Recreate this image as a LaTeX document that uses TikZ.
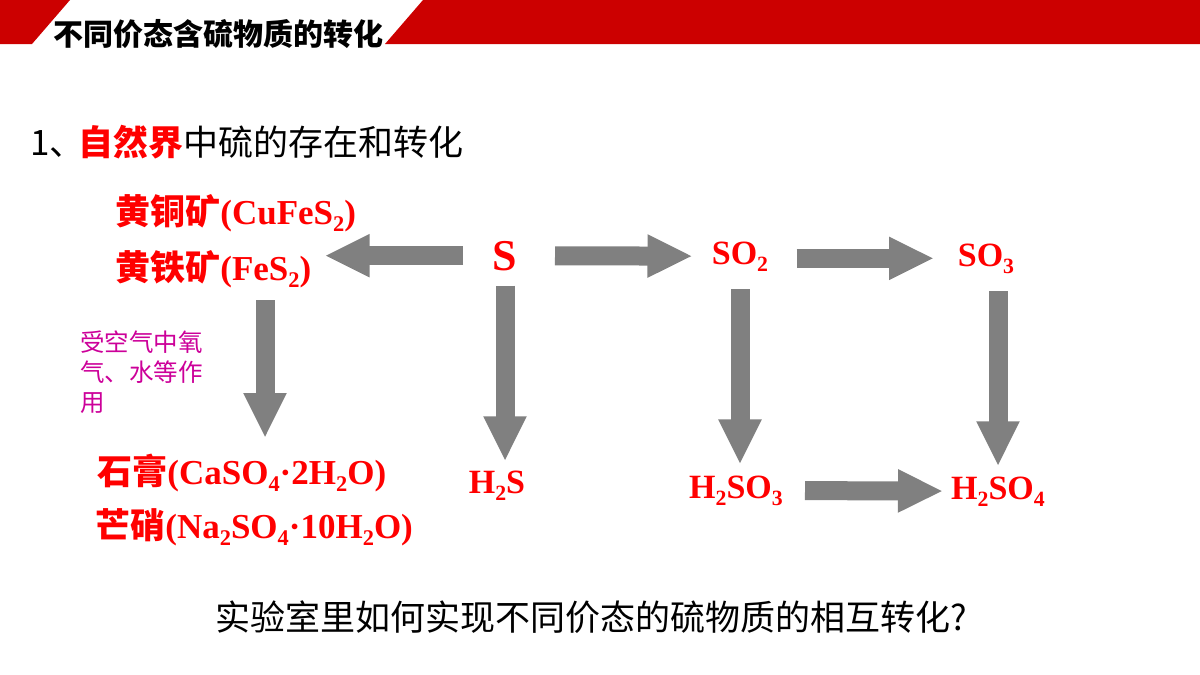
\documentclass[tikz,border=0pt]{standalone}
\usepackage{fontspec}
\setmainfont{Liberation Serif}
\newfontfamily\cjk{Noto Sans CJK SC}
\usetikzlibrary{arrows.meta}
\definecolor{bandred}{RGB}{204,0,0}
\definecolor{arrowgray}{RGB}{128,128,128}
\definecolor{notepurple}{RGB}{204,0,153}
\makeatletter
\newcommand{\chemsub}[1]{\raisebox{-0.45ex}{\@tempdima=\f@size pt\@tempdima=0.64\@tempdima\fontsize{\strip@pt\@tempdima}{0}\selectfont #1}}
\makeatother

\begin{document}
\begin{tikzpicture}[x=0.5pt, y=-0.5pt,
  chem/.style={inner sep=0pt, text=red, font=\bfseries\fontsize{17}{20}\selectfont},
  mineral/.style={inner sep=0pt, anchor=west, text=red, font=\bfseries\fontsize{17.5}{21}\selectfont},
  bigarrow/.style={draw=arrowgray, line width=9.5pt, -{Triangle[length=22.5pt, width=20pt]}}]
  \useasboundingbox (0,0) rectangle (1200,675);
  % Title band
  \fill[bandred] (0,0) -- (70,0) -- (32,44) -- (0,44) -- cycle;
  \fill[bandred] (423,0) -- (1200,0) -- (1200,44) -- (385,44) -- cycle;
  \node[inner sep=0pt, anchor=west, font=\cjk\bfseries\fontsize{15}{18}\selectfont] (title) at (53,34) {不同价态含硫物质的转化};
  \node[inner sep=0pt, anchor=west, font=\cjk\fontsize{17.5}{21}\selectfont] (heading) at (30,142)
    {1、\hspace{-3pt}{\bfseries\color{red}自然界}中硫的存在和转化};
  % Minerals
  \node[mineral] (chalco) at (115,213) {{\cjk 黄铜矿}(CuFeS\chemsub{2})};
  \node[mineral] (pyrite) at (115,269) {{\cjk 黄铁矿}(FeS\chemsub{2})};
  \node[mineral] (gypsum) at (97,473) {{\cjk 石膏}(CaSO\chemsub{4}·2H\chemsub{2}O)};
  \node[mineral] (mirabilite) at (95,527) {{\cjk 芒硝}(Na\chemsub{2}SO\chemsub{4}·10H\chemsub{2}O)};
  \node[inner sep=0pt, anchor=north west, align=left, text=notepurple,
    font=\cjk\fontsize{12.25}{15}\selectfont] (note) at (80,330) {受空气中氧\\气、水等作\\用};
  % Sulfur species
  \node[chem, anchor=base, font=\bfseries\fontsize{22}{26}\selectfont] (S) at (505,270) {S};
  \node[chem, anchor=base] (SOtwo) at (740,264) {SO\chemsub{2}};
  \node[chem, anchor=base] (SOthree) at (986,266) {SO\chemsub{3}};
  \node[chem, anchor=base] (HtwoS) at (497,493) {H\chemsub{2}S};
  \node[chem, anchor=base] (sulfurous) at (736,498) {H\chemsub{2}SO\chemsub{3}};
  \node[chem, anchor=base] (sulfuric) at (998,499) {H\chemsub{2}SO\chemsub{4}};
  % Arrows
  \draw[bigarrow, shorten <=21pt, shorten >=6.5pt] (S.center) -- (S.center -| pyrite.east);
  \draw[bigarrow, shorten <=25pt, shorten >=23.75pt] (S.center) -- (SOtwo.center);
  \draw[bigarrow, shorten <=28.25pt, shorten >=26pt] (SOthree.center -| SOtwo.center) -- (SOthree.center);
  \draw[bigarrow, shorten <=34.5pt, shorten >=27.5pt] (sulfurous.center) -- (sulfuric.center);
  \draw[bigarrow, shorten <=15pt, shorten >=12pt] (S.center) -- (S.center |- HtwoS.center);
  \draw[bigarrow, shorten <=16.5pt, shorten >=13pt] (SOtwo.center) -- (SOtwo.center |- sulfurous.center);
  \draw[bigarrow, shorten <=16.5pt, shorten >=12.5pt] (SOthree.center -| sulfuric.center) -- (sulfuric.center);
  \coordinate (weathertop) at ([xshift=75pt]pyrite.west);
  \draw[bigarrow, shorten <=15.5pt, shorten >=17.5pt] (weathertop) -- (weathertop |- gypsum.center);
  % Question
  \node[inner sep=0pt, anchor=west, font=\cjk\fontsize{17.5}{21}\selectfont] (question) at (215,617)
    {实验室里如何实现不同价态的硫物质的相互转化?};
\end{tikzpicture}
\end{document}
